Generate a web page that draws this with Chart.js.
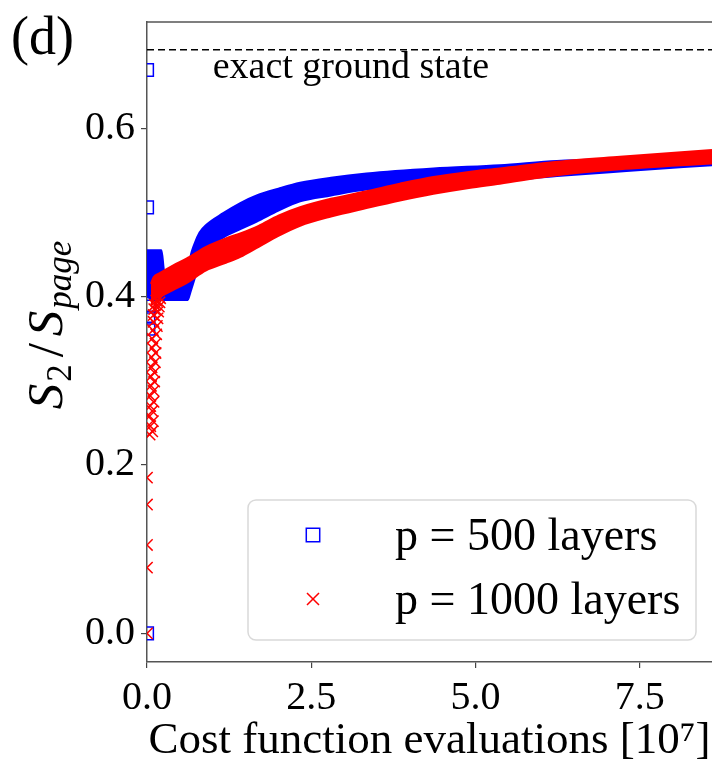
<!DOCTYPE html>
<html>
<head>
<meta charset="utf-8">
<script src="https://cdn.jsdelivr.net/npm/chart.js@4"></script>
<style>
  html, body { margin: 0; background: #fff; }
</style>
</head>
<body>
<canvas id="chart" width="712" height="765"></canvas>
<script>
// tick labels
const xTicks = [0, 2.5, 5, 7.5];
const yTicks = [0, 0.2, 0.4, 0.6];

// exact ground state reference
const refX = [0, 8.6];
const refY = [0.693, 0.693];

// p = 500 layers: dense band (upper / lower edge) + isolated early points
const blueX     = [0, 0.1, 0.22, 0.26, 0.35, 0.5, 0.62, 0.66, 0.72, 0.8, 0.9, 1.16, 1.42, 1.67, 2.0, 2.33, 2.8, 3.34, 4.36, 5.37, 6.24, 7.3, 8.6];
const blueUpper = [0.455, 0.455, 0.455, 0.43, 0.42, 0.42, 0.425, 0.447, 0.462, 0.476, 0.485, 0.499, 0.511, 0.52, 0.528, 0.535, 0.541, 0.546, 0.552, 0.556, 0.561, 0.564, 0.568];
const blueLower = [0.4, 0.396, 0.396, 0.396, 0.396, 0.396, 0.396, 0.405, 0.42, 0.44, 0.455, 0.47, 0.48, 0.489, 0.502, 0.513, 0.52, 0.527, 0.532, 0.537, 0.543, 0.549, 0.556];
const blueDotsX = [0, 0, 0, 0.02, 0.03, 0.02];
const blueDotsY = [0.0, 0.506, 0.669, 0.375, 0.388, 0.362];

// p = 1000 layers
const redX     = [0.06, 0.1, 0.2, 0.4, 0.6, 0.9, 1.2, 1.42, 1.7, 2.0, 2.33, 2.8, 3.34, 3.85, 4.36, 4.9, 5.37, 6.24, 7.2, 8.6];
const redUpper = [0.415, 0.423, 0.428, 0.437, 0.445, 0.459, 0.469, 0.475, 0.484, 0.496, 0.506, 0.516, 0.525, 0.534, 0.542, 0.548, 0.552, 0.56, 0.566, 0.574];
const redLower = [0.39, 0.396, 0.4, 0.408, 0.416, 0.431, 0.44, 0.447, 0.459, 0.472, 0.484, 0.495, 0.505, 0.514, 0.522, 0.529, 0.534, 0.544, 0.551, 0.558];
const redDotsX = [0, 0, 0, 0, 0,
  0.04, 0.08, 0.05, 0.09, 0.04, 0.08, 0.05, 0.1, 0.05, 0.1, 0.06, 0.11,
  0.06, 0.11, 0.07, 0.12, 0.07, 0.13, 0.08, 0.13, 0.08, 0.14, 0.09, 0.15,
  0.1, 0.16, 0.1, 0.17, 0.11, 0.18, 0.12, 0.19, 0.14, 0.2];
const redDotsY = [0.0, 0.078, 0.105, 0.153, 0.185,
  0.236, 0.24, 0.246, 0.252, 0.258, 0.264, 0.27, 0.275, 0.282, 0.288, 0.294, 0.299,
  0.305, 0.31, 0.316, 0.322, 0.328, 0.333, 0.339, 0.344, 0.35, 0.355, 0.36, 0.365,
  0.37, 0.374, 0.378, 0.382, 0.385, 0.388, 0.39, 0.393, 0.395, 0.398];

const BLUE = "#0000ff";
const RED = "#ff0000";
const SERIF = "'Liberation Serif', 'Times New Roman', serif";

const pts = (xs, ys) => xs.map((x, i) => ({ x, y: ys[i] }));

const band = (xs, ys, color, order, fill) => ({
  data: pts(xs, ys),
  borderColor: color,
  backgroundColor: color,
  borderWidth: 2,
  pointRadius: 0,
  cubicInterpolationMode: "monotone",
  fill,
  order,
  clip: 0,
});

const extras = {
  id: "extras",
  afterDraw(chart) {
    const { ctx, chartArea: a, scales } = chart;
    ctx.save();

    // top spine
    ctx.strokeStyle = "#555";
    ctx.lineWidth = 1.5;
    ctx.beginPath();
    ctx.moveTo(a.left, a.top);
    ctx.lineTo(a.right, a.top);
    ctx.stroke();

    // annotation under dashed line
    ctx.fillStyle = "#000";
    ctx.font = `38px ${SERIF}`;
    ctx.textBaseline = "alphabetic";
    ctx.textAlign = "left";
    ctx.fillText("exact ground state", scales.x.getPixelForValue(1.0), scales.y.getPixelForValue(0.659));

    // panel letter
    ctx.font = `54px ${SERIF}`;
    ctx.fillText("(d)", 11, 54);

    // y axis title  S_2 / S_page
    const parts = [
      { t: "S", f: `italic 51px ${SERIF}`, dy: 0, gap: 2 },
      { t: "2", f: `35px ${SERIF}`, dy: 9, gap: 7 },
      { t: "/", f: `51px ${SERIF}`, dy: 0, gap: 7 },
      { t: "S", f: `italic 51px ${SERIF}`, dy: 0, gap: 2 },
      { t: "page", f: `italic 35px ${SERIF}`, dy: 9, gap: 0 },
    ];
    let w = 0;
    parts.forEach((p) => { ctx.font = p.f; p.w = ctx.measureText(p.t).width; w += p.w + p.gap; });
    ctx.translate(62, 325);
    ctx.rotate(-Math.PI / 2);
    let x = -w / 2;
    parts.forEach((p) => { ctx.font = p.f; ctx.fillText(p.t, x, p.dy); x += p.w + p.gap; });
    ctx.setTransform(1, 0, 0, 1, 0, 0);

    // legend
    const bx = 248, by = 500, bw = 448, bh = 140;
    ctx.fillStyle = "rgba(255,255,255,0.8)";
    ctx.strokeStyle = "#d9d9d9";
    ctx.lineWidth = 1.5;
    ctx.beginPath();
    ctx.roundRect(bx, by, bw, bh, 8);
    ctx.fill();
    ctx.stroke();

    const entries = chart.data.datasets.filter((d) => d.inLegend);
    entries.forEach((d, i) => {
      const cy = by + 35 + i * 64;
      ctx.strokeStyle = d.borderColor;
      ctx.fillStyle = "rgba(0,0,0,0)";
      ctx.lineWidth = 1.5;
      Chart.helpers.drawPoint(ctx, { pointStyle: d.pointStyle, radius: d.legendRadius, rotation: 0, borderWidth: 1.5 }, 313, cy);
      ctx.fillStyle = "#000";
      ctx.font = `46px ${SERIF}`;
      ctx.textBaseline = "middle";
      ctx.fillText(d.label, 395, cy + 3);
      ctx.textBaseline = "alphabetic";
    });

    ctx.restore();
  },
};

new Chart(document.getElementById("chart"), {
  type: "line",
  data: {
    datasets: [
      {
        data: pts(refX, refY),
        borderColor: "#000",
        borderWidth: 1.5,
        borderDash: [7, 4],
        pointRadius: 0,
        fill: false,
        order: 0,
      },
      {
        label: "p = 500 layers",
        inLegend: true,
        legendRadius: 9.5,
        data: pts(blueDotsX, blueDotsY),
        showLine: false,
        pointStyle: "rect",
        pointRadius: 9,
        borderColor: BLUE,
        backgroundColor: "rgba(0,0,0,0)",
        borderWidth: 1.5,
        order: 5,
        clip: 0,
      },
      {
        label: "p = 1000 layers",
        inLegend: true,
        legendRadius: 8.5,
        data: pts(redDotsX, redDotsY),
        showLine: false,
        pointStyle: "crossRot",
        pointRadius: 8,
        borderColor: RED,
        backgroundColor: RED,
        borderWidth: 1.5,
        order: 1,
        clip: 0,
      },
      band(blueX, blueUpper, BLUE, 4, false),
      band(blueX, blueLower, BLUE, 4, "-1"),
      band(redX, redUpper, RED, 2, false),
      band(redX, redLower, RED, 2, "-1"),
    ],
  },
  options: {
    responsive: false,
    animation: false,
    devicePixelRatio: 1,
    layout: { autoPadding: false, padding: { top: 22, right: 0, left: 0, bottom: 0 } },
    plugins: { legend: { display: false }, tooltip: { enabled: false } },
    scales: {
      x: {
        type: "linear",
        min: 0,
        max: 8.6,
        afterBuildTicks: (s) => { s.ticks = xTicks.map((v) => ({ value: v })); },
        afterFit: (s) => { s.height = 103; s.paddingLeft = 0; s.paddingRight = 0; },
        grid: { drawOnChartArea: false, drawTicks: true, tickLength: 6, color: "#444", lineWidth: 1.2 },
        border: { display: true, color: "#555", width: 1.5 },
        ticks: {
          padding: 6,
          color: "#000",
          maxRotation: 0,
          autoSkip: false,
          font: { family: SERIF, size: 40 },
          callback: (v) => Number(v).toFixed(1),
        },
        title: {
          display: true,
          text: "Cost function evaluations [10\u2077]",
          color: "#000",
          font: { family: SERIF, size: 45, lineHeight: 1.05 },
          padding: { top: 0, bottom: 0 },
        },
      },
      y: {
        type: "linear",
        min: -0.034,
        max: 0.726,
        afterBuildTicks: (s) => { s.ticks = yTicks.map((v) => ({ value: v })); },
        afterFit: (s) => { s.width = 147; s.paddingTop = 0; s.paddingBottom = 0; },
        grid: { drawOnChartArea: false, drawTicks: true, tickLength: 6, color: "#444", lineWidth: 1.2 },
        border: { display: true, color: "#555", width: 1.5 },
        ticks: {
          padding: 6,
          color: "#000",
          font: { family: SERIF, size: 40 },
          callback: (v) => Number(v).toFixed(1),
        },
      },
    },
  },
  plugins: [extras],
});
</script>
</body>
</html>
